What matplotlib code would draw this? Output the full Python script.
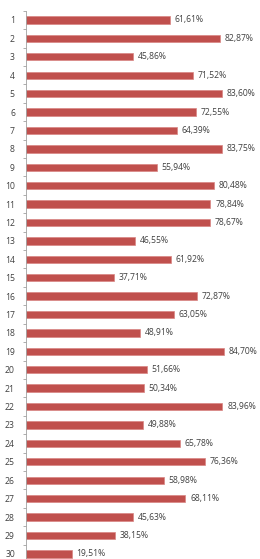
import matplotlib.pyplot as plt
import numpy as np

categories = [str(i) for i in range(1, 31)]
values = [61.61, 82.87, 45.86, 71.52, 83.60, 72.55, 64.39, 83.75, 55.94, 80.48,
          78.84, 78.67, 46.55, 61.92, 37.71, 72.87, 63.05, 48.91, 84.70, 51.66,
          50.34, 83.96, 49.88, 65.78, 76.36, 58.98, 68.11, 45.63, 38.15, 19.51]
labels = [f"{v:.2f}%".replace(".", ",") for v in values]

plt.rcParams['font.family'] = ['Open Sans', 'DejaVu Sans']

fig = plt.figure(figsize=(2.6, 5.59), dpi=100)
ax = fig.add_axes([0.1, -0.0072, 0.9, 0.9879])

y = np.arange(1, len(values) + 1)
ax.barh(y, values, height=0.4, color="#C0504D", edgecolor="#D98583", linewidth=0.5)

for yi, v, lab in zip(y, values, labels):
    ax.text(v + 2.0, yi, lab, va="center", ha="left", fontsize=6.2, color="#404040")

ax.set_xlim(0, 100)
ax.set_ylim(30.5, 0.5)
ax.set_yticks(y)
ax.set_yticklabels(categories, fontsize=6.2, color="#404040")
ax.set_yticks(np.arange(0.5, 31, 1), minor=True)
ax.tick_params(axis="y", which="major", length=0, pad=8)
ax.tick_params(axis="y", which="minor", length=2.5, color="#A0A0A0", width=0.6)
ax.set_xticks([])

for s in ["top", "right", "bottom"]:
    ax.spines[s].set_visible(False)
ax.spines["left"].set_color("#A0A0A0")
ax.spines["left"].set_linewidth(0.6)

fig.savefig("out.png", dpi=100)
